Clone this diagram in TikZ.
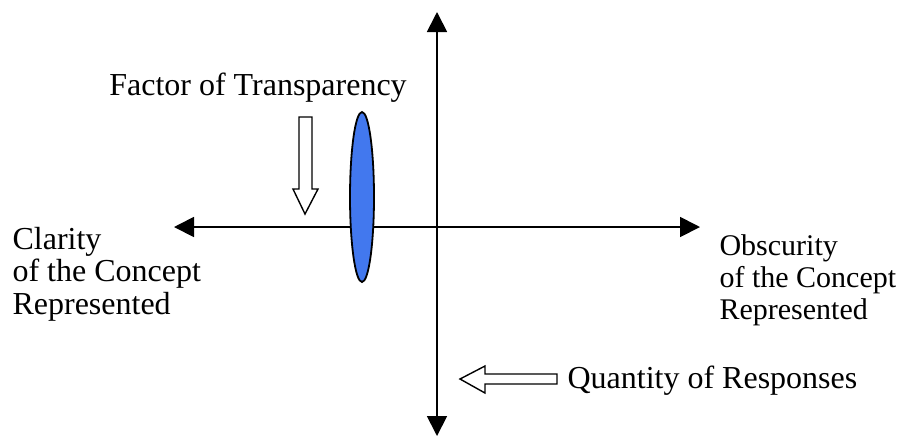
\documentclass[tikz,border=0pt]{standalone}
\usepackage{fontspec}
\setmainfont{Liberation Serif}
\usetikzlibrary{arrows.meta,positioning}
\definecolor{lensblue}{RGB}{66,120,238}

\begin{document}
\begin{tikzpicture}[>={Triangle[length=10pt,width=10pt]},x=0.5pt,y=-0.5pt,line width=0.9pt,
  font=\fontsize{15}{16}\selectfont]
\useasboundingbox (0,0) rectangle (919,436);
% axes
\coordinate (top) at (437,12);
\coordinate (bottom) at (437,436);
\coordinate (left) at (174,227);
\coordinate (right) at (700,227);
\draw[<->] (bottom) -- (top);
\draw[<->] (left) -- (right);
% lens
\draw[fill=lensblue] (362,197) ellipse (12 and 85);
% hollow arrows
\draw[line width=0.7pt] (299,117) -- (312,117) -- (312,189) -- (318,189) -- (305,214)
  -- (293,189) -- (299,189) -- cycle;
\draw[line width=0.7pt] (557,374) -- (557,384) -- (485,384) -- (485,393) -- (460,379)
  -- (485,366) -- (485,374) -- cycle;
% labels
\node[anchor=base,font=\fontsize{16}{19}\selectfont] (factor) at (258,95) {Factor of Transparency};
\node[anchor=base west,font=\fontsize{16}{19}\selectfont] (quantity) at (560,388) {Quantity of Responses};
\node[anchor=west,align=left,font=\fontsize{16}{16.3}\selectfont] (clarity) at (5,274) {Clarity\\of the Concept\\Represented};
\node[anchor=west,align=left] (obscurity) at (712,280) {Obscurity\\of the Concept\\Represented};
\end{tikzpicture}
\end{document}
